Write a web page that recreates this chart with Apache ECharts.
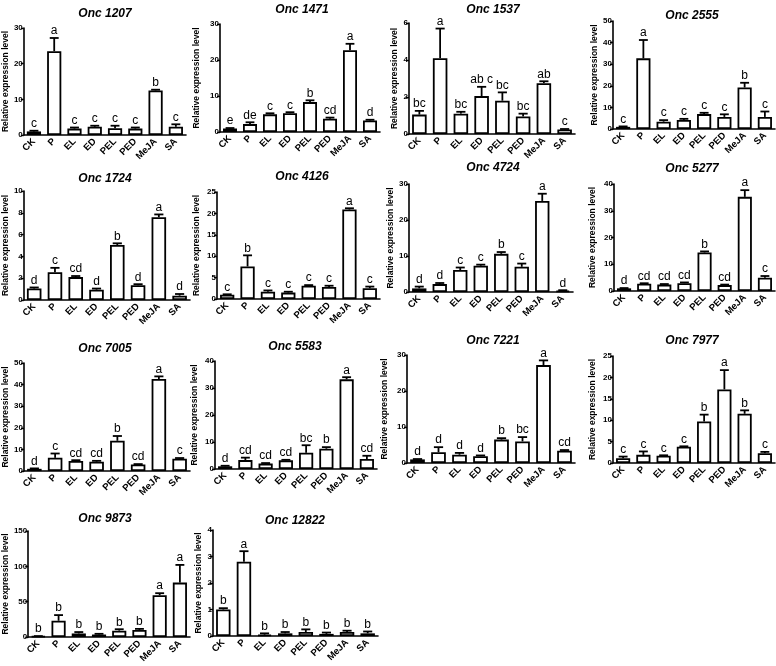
<!DOCTYPE html>
<html><head><meta charset="utf-8">
<script src="https://cdn.jsdelivr.net/npm/echarts@6/dist/echarts.min.js"></script>
<style>html,body{margin:0;padding:0;background:#fff}#c{width:776px;height:666px}</style>
</head><body><div id="c"></div>
<script>
const categories = ['CK','P','EL','ED','PEL','PED','MeJA','SA'];
const geneNames = ['Onc 1207','Onc 1471','Onc 1537','Onc 2555','Onc 1724','Onc 4126','Onc 4724','Onc 5277','Onc 7005','Onc 5583','Onc 7221','Onc 7977','Onc 9873','Onc 12822'];
const yMax  = [30,30,6,50,10,25,30,40,50,40,30,25,150,4];
const yStep = [10,10,2,10,2,5,10,10,10,10,10,5,50,1];

const onc1207Mean = [1.0,23.5,1.8,2.3,1.9,1.8,12.5,2.3];
const onc1207Err  = [0.2,3.7,0.3,0.3,0.7,0.3,0.2,0.7];
const onc1207Sig  = ['c','a','c','c','c','c','b','c'];
const onc1471Mean = [1.0,2.2,4.9,5.2,8.3,3.7,22.7,3.2];
const onc1471Err  = [0.1,0.5,0.3,0.3,0.5,0.3,1.8,0.2];
const onc1471Sig  = ['e','de','c','c','b','cd','a','d'];
const onc1537Mean = [1.05,4.1,1.1,2.05,1.8,0.95,2.75,0.25];
const onc1537Err  = [0.2,1.6,0.1,0.5,0.45,0.15,0.1,0.02];
const onc1537Sig  = ['bc','a','bc','ab c','bc','bc','ab','c'];
const onc2555Mean = [1.0,32.7,3.4,4.2,6.9,5.6,19.2,5.6];
const onc2555Err  = [0.2,8.5,0.7,0.5,0.6,1.2,2.2,2.5];
const onc2555Sig  = ['c','a','c','c','c','c','b','c'];
const onc1724Mean = [1.05,2.55,2.1,0.95,5.05,1.35,7.6,0.4];
const onc1724Err  = [0.1,0.4,0.1,0.1,0.15,0.1,0.25,0.15];
const onc1724Sig  = ['d','c','cd','d','b','d','a','d'];
const onc4126Mean = [1.0,7.6,1.7,1.5,3.1,2.8,20.9,2.5];
const onc4126Err  = [0.1,2.6,0.3,0.2,0.15,0.3,0.3,0.4];
const onc4126Sig  = ['c','b','c','c','c','c','a','c'];
const onc4724Mean = [1.0,2.2,6.1,7.3,10.6,7.0,25.3,0.4];
const onc4724Err  = [0.5,0.3,0.7,0.3,0.5,0.9,2.0,0.1];
const onc4724Sig  = ['d','d','c','c','b','c','a','d'];
const onc5277Mean = [1.0,2.7,2.4,2.9,14.4,2.2,35.2,5.0];
const onc5277Err  = [0.1,0.2,0.2,0.3,0.4,0.2,2.5,0.6];
const onc5277Sig  = ['d','cd','cd','cd','b','cd','a','c'];
const onc7005Mean = [1.0,6.1,4.6,4.3,14.0,3.0,42.6,5.7];
const onc7005Err  = [0.2,2.0,0.4,0.4,2.2,0.2,1.2,0.3];
const onc7005Sig  = ['d','c','cd','cd','b','cd','a','c'];
const onc5583Mean = [1.0,3.3,2.0,3.2,6.0,7.5,33.2,3.7];
const onc5583Err  = [0.2,0.9,0.2,0.2,2.8,0.6,0.8,1.2];
const onc5583Sig  = ['d','cd','cd','cd','bc','b','a','cd'];
const onc7221Mean = [1.0,3.0,2.3,1.9,6.5,6.0,27.2,3.4];
const onc7221Err  = [0.1,1.4,0.5,0.2,0.4,1.2,1.3,0.2];
const onc7221Sig  = ['d','d','d','d','b','bc','a','cd'];
const onc7977Mean = [1.1,1.9,1.7,3.8,9.7,17.2,11.5,2.3];
const onc7977Err  = [0.4,0.8,0.1,0.1,1.6,4.5,0.8,0.3];
const onc7977Sig  = ['c','c','c','c','b','a','b','c'];
const onc9873Mean = [1.0,23.0,5.0,3.5,9.0,10.0,59.0,77.0];
const onc9873Err  = [0.3,8.0,2.0,1.0,2.0,1.5,3.0,25.0];
const onc9873Sig  = ['b','b','b','b','b','b','a','a'];
const onc12822Mean = [1.0,2.8,0.05,0.1,0.15,0.08,0.15,0.1];
const onc12822Err  = [0.05,0.4,0.05,0.05,0.1,0.05,0.05,0.07];
const onc12822Sig  = ['b','a','b','b','b','b','b','b'];

const means = [onc1207Mean,onc1471Mean,onc1537Mean,onc2555Mean,onc1724Mean,onc4126Mean,onc4724Mean,onc5277Mean,onc7005Mean,onc5583Mean,onc7221Mean,onc7977Mean,onc9873Mean,onc12822Mean];
const errs  = [onc1207Err,onc1471Err,onc1537Err,onc2555Err,onc1724Err,onc4126Err,onc4724Err,onc5277Err,onc7005Err,onc5583Err,onc7221Err,onc7977Err,onc9873Err,onc12822Err];
const sigs  = [onc1207Sig,onc1471Sig,onc1537Sig,onc2555Sig,onc1724Sig,onc4126Sig,onc4724Sig,onc5277Sig,onc7005Sig,onc5583Sig,onc7221Sig,onc7977Sig,onc9873Sig,onc12822Sig];

// layout: [left, top, width, height], title position [x, y], name gap
const layout = [
  [22,28,164,107],[220,24,160,108],[409,23,166,111],[613,21,162,108],
  [22,191,168,109],[217,192,163,107],[409,184,164,108],[614,184,161,107],
  [22,363,168,108],[215,361,162,108],[407,355,168,108],[613,356,162,107],
  [22,531,168,106],[213,530,165,106]
];
const titlePos = [[100,3],[297,-1],[488,-1],[687,5],[100,168],[297,166],[488,157],[687,158],[100,338],[290,336],[488,330],[687,330],[100,508],[290,510]];
const nameGaps = [13,19,6,11,13,16,14,17,14,16,18,16,12,10];

const FONT = 'Liberation Sans, Arial, sans-serif';
const grids=[], xAxes=[], yAxes=[], series=[], titles=[];
for (let i=0;i<geneNames.length;i++){
  const L = layout[i];
  grids.push({left:L[0], top:L[1], width:L[2], height:L[3], containLabel:false});
  titles.push({text:geneNames[i], left:titlePos[i][0], top:titlePos[i][1], textAlign:'center',
    textStyle:{fontFamily:FONT, fontSize:12, fontWeight:'bold', fontStyle:'italic', color:'#000'}});
  xAxes.push({type:'category', gridIndex:i, data:categories,
    axisLine:{lineStyle:{color:'#000', width:1.6}}, axisTick:{show:false},
    axisLabel:{rotate:45, interval:0, fontSize:9.5, fontWeight:'bold', fontFamily:FONT, color:'#000', margin:5}});
  yAxes.push({type:'value', gridIndex:i, min:0, max:yMax[i], interval:yStep[i],
    name:'Relative expression level', nameLocation:'middle', nameGap:nameGaps[i], nameRotate:90,
    nameTextStyle:{fontFamily:FONT, fontSize:8.5, fontWeight:'bold', color:'#000'},
    axisLine:{show:true, lineStyle:{color:'#000', width:1.6}},
    axisTick:{show:true, length:3, lineStyle:{color:'#000', width:1.4}},
    splitLine:{show:false},
    axisLabel:{fontSize:8, fontWeight:'bold', fontFamily:FONT, color:'#000', margin:1}});
  series.push({type:'bar', xAxisIndex:i, yAxisIndex:i, data:means[i], barCategoryGap:'30%',
    itemStyle:{color:'#fff', borderColor:'#000', borderWidth:1.8}, silent:true, animation:false});
  const sig = sigs[i];
  series.push({type:'custom', xAxisIndex:i, yAxisIndex:i, animation:false, silent:true, z:5,
    data: means[i].map((m,k)=>[k,m,errs[i][k]]),
    renderItem:function(params, api){
      const k = api.value(0), m = api.value(1), e = api.value(2);
      const p0 = api.coord([k,m]), p1 = api.coord([k,m+e]);
      const w = api.size([1,0])[0]*0.22;
      const children = [
        {type:'line', shape:{x1:p0[0],y1:p0[1],x2:p1[0],y2:p1[1]}, style:{stroke:'#000', lineWidth:1.8}},
        {type:'line', shape:{x1:p1[0]-w,y1:p1[1],x2:p1[0]+w,y2:p1[1]}, style:{stroke:'#000', lineWidth:1.8}},
        {type:'text', style:{text:sig[k], x:p1[0], y:p1[1]-1, align:'center', verticalAlign:'bottom',
          fontSize:12, fontFamily:FONT, fill:'#000'}}
      ];
      return {type:'group', children:children};
    }});
}
const chart = echarts.init(document.getElementById('c'), null, {renderer:'canvas'});
chart.setOption({animation:false, backgroundColor:'#fff', title:titles, grid:grids, xAxis:xAxes, yAxis:yAxes, series:series});
</script>
</body></html>
